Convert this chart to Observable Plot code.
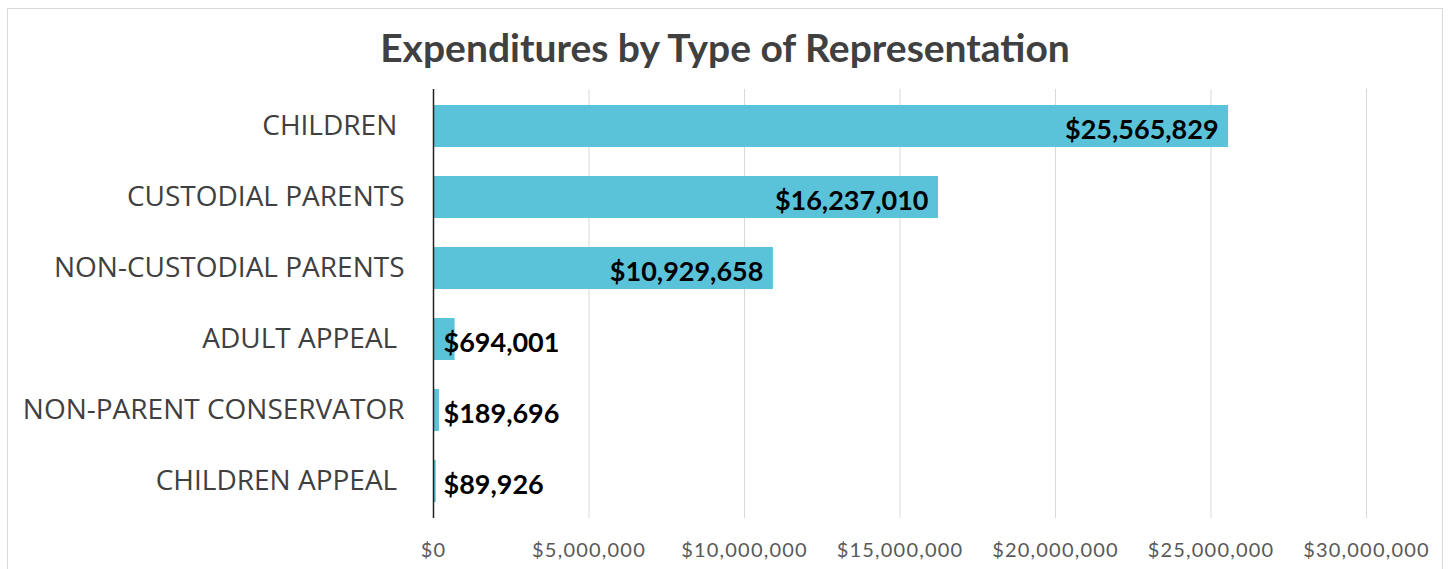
<!DOCTYPE html>
<html>
<head>
<meta charset="utf-8">
<script src="https://cdn.jsdelivr.net/npm/d3@7"></script>
<script src="https://cdn.jsdelivr.net/npm/@observablehq/plot@0.6"></script>
<style>
  html, body { margin: 0; padding: 0; background: #fff; overflow: hidden; }
  #frame { position: absolute; left: 7px; top: 8px; width: 1434px; height: 600px; border: 1px solid #d9d9d9; background: #fff; }
  #title { position: absolute; left: 0; top: 0; width: 100%; height: 76px; line-height: 76px; text-align: center;
           font-family: Lato, "Open Sans", sans-serif; font-weight: 700; font-size: 39px; color: #404040; }
  #chart { position: absolute; left: 0; top: 78px; }
  #chart svg text { white-space: pre; }
  #chart g[aria-label="x-axis tick label"] text { letter-spacing: 1.2px; }
</style>
</head>
<body>
<div id="frame">
  <div id="title">Expenditures by Type of Representation</div>
  <div id="chart"></div>
</div>
<script>
const categories = ["CHILDREN ", "CUSTODIAL PARENTS", "NON-CUSTODIAL PARENTS", "ADULT APPEAL ", "NON-PARENT CONSERVATOR", "CHILDREN APPEAL "];
const values = [25565829, 16237010, 10929658, 694001, 189696, 89926];
const xTicks = [0, 5000000, 10000000, 15000000, 20000000, 25000000, 30000000];

const data = categories.map((c, i) => ({category: c, value: values[i]}));
const money = d3.format("$,");
const big = data.filter(d => d.value > 5000000);
const small = data.filter(d => d.value <= 5000000);

const chart = Plot.plot({
  width: 1434,
  height: 482,
  marginLeft: 425,
  marginRight: 76,
  marginTop: 2,
  marginBottom: 51,
  style: {background: "transparent", overflow: "visible"},
  x: {domain: [0, 30000000], ticks: xTicks, tickFormat: money, label: null},
  y: {domain: categories, paddingInner: 0.41, paddingOuter: 0.205, label: null},
  marks: [
    Plot.gridX(xTicks, {stroke: "#d9d9d9", strokeOpacity: 1, strokeWidth: 1}),
    Plot.barX(data, {x: "value", y: "category", fill: "#5bc3d9"}),
    Plot.ruleX([0], {stroke: "#222", strokeWidth: 1.5}),
    Plot.axisX({ticks: xTicks, tickFormat: money, tickSize: 0, tickPadding: 24, fontSize: 20,
                fill: "#595959", fontFamily: "Lato, sans-serif", label: null}),
    Plot.axisY({tickSize: 0, tickPadding: 29, fontSize: 28, fill: "#404040",
                fontFamily: "'Open Sans', sans-serif", label: null}),
    Plot.text(big, {x: "value", y: "category", text: d => money(d.value), textAnchor: "end", dx: -10, dy: 4,
                    fontSize: 27, fontWeight: 700, fill: "#000", fontFamily: "Lato, sans-serif"}),
    Plot.text(small, {x: 0, y: "category", text: d => money(d.value), textAnchor: "start", dx: 10, dy: 4,
                      fontSize: 27, fontWeight: 700, fill: "#000", fontFamily: "Lato, sans-serif"})
  ]
});
document.getElementById("chart").appendChild(chart);
</script>
</body>
</html>
